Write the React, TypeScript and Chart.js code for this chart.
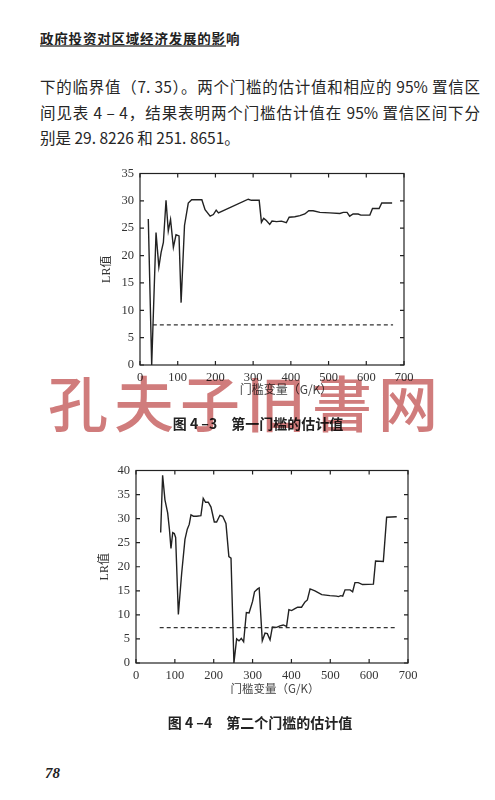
import React, { useEffect, useRef } from "react";
import { Chart, registerables } from "chart.js";

Chart.register(...registerables);

// ---------- data ----------
const xTickValues = [0, 100, 200, 300, 400, 500, 600, 700];
const criticalValue = 7.35;

// Figure 4-3: first threshold
const fig1X = [22, 31, 42.5, 50, 56, 62, 69, 75, 81, 88.5, 95.5, 103.5, 109, 118, 128, 137, 164, 172.5, 186, 194.5, 202, 208, 287, 295.5, 316, 322, 328, 335, 344, 350, 362, 375, 388, 395.5, 410.5, 424, 437, 447.5, 459, 477, 503, 530, 539, 549, 556, 565, 578.5, 585.5, 609.5, 616.5, 634, 641, 668.5];
const fig1LR = [26.7, 0, 24.2, 17.9, 20.6, 22.4, 30.1, 24.5, 26.6, 21.5, 23.8, 23.6, 11.4, 25.5, 29.6, 30.2, 30.2, 28.4, 27.2, 27.5, 28.3, 27.8, 30.3, 30.1, 30.1, 26.1, 26.8, 26.4, 25.7, 26.3, 26.2, 26.3, 26.0, 27.0, 27.1, 27.3, 27.6, 28.2, 28.2, 27.9, 27.8, 27.7, 27.9, 27.9, 27.2, 27.6, 27.6, 27.4, 27.4, 28.6, 28.6, 29.6, 29.6];
const fig1CritRange = [34, 671];
const fig1YMax = 35;

// Figure 4-4: second threshold
const fig2X = [63.5, 68.5, 74.5, 81.5, 86, 90, 94.5, 98.5, 102, 109, 117.5, 126, 132, 137, 141.5, 147.5, 156, 167, 173, 179, 186, 193, 201.5, 207.5, 216, 223, 231.5, 239, 244.5, 252, 259, 265, 271, 277, 284, 291, 300, 305, 313, 317, 325, 332, 338, 345, 351, 362, 370.5, 379, 387.5, 393.5, 400.5, 409, 416, 426, 435, 441, 448, 460.5, 478, 499, 516, 521, 527, 532, 538, 551, 557.5, 563.5, 572, 583, 611, 616.5, 636.5, 645, 671];
const fig2LR = [27.1, 39.0, 33.9, 31.2, 27.8, 23.8, 27.1, 26.9, 26.1, 10.1, 18.6, 25.7, 27.8, 28.8, 30.8, 30.5, 30.5, 30.6, 34.2, 33.4, 33.4, 32.4, 29.3, 29.3, 30.7, 30.5, 29.0, 22.1, 21.8, 0, 5.0, 4.6, 5.1, 4.4, 10.5, 10.4, 12.8, 14.8, 15.4, 15.6, 4.6, 6.2, 6.1, 4.8, 7.5, 7.4, 7.7, 7.9, 7.6, 11.1, 10.9, 11.3, 11.6, 11.6, 12.7, 13.1, 15.4, 15.0, 14.2, 14.0, 13.9, 13.8, 14.0, 13.9, 15.2, 15.2, 14.8, 16.7, 16.7, 16.3, 16.4, 21.2, 21.1, 30.3, 30.4];
const fig2CritRange = [61, 673];
const fig2YMax = 40;

// ---------- texts ----------
const runningHead = "政府投资对区域经济发展的影响";
const paraLines = [
  "下的临界值（7. 35）。两个门槛的估计值和相应的 95% 置信区",
  "间见表 4 – 4，结果表明两个门槛估计值在 95% 置信区间下分",
  "别是 29. 8226 和 251. 8651。",
];
const yTitle = "LR值";
const xTitle = "门槛变量（G/K）";
const caption1 = "图 4 –3　第一门槛的估计值";
const caption2 = "图 4 –4　第二个门槛的估计值";
const watermark = "孔夫子旧書网";
const pageNo = "78";

const INK = "#222";
const TICK_FONT = "'Liberation Serif', 'DejaVu Serif', serif";

const framePlugin = {
  id: "frameTicks",
  afterDatasetsDraw(chart: any) {
    const { ctx, chartArea, scales } = chart;
    const { left, right, top, bottom } = chartArea;
    const x = scales.x;
    const y = scales.y;
    ctx.save();
    ctx.strokeStyle = INK;
    ctx.lineWidth = 1.2;
    ctx.strokeRect(left, top, right - left, bottom - top);
    const L = 4;
    ctx.beginPath();
    x.ticks.forEach((t: any) => {
      const p = x.getPixelForValue(t.value);
      ctx.moveTo(p, bottom);
      ctx.lineTo(p, bottom - L);
      ctx.moveTo(p, top);
      ctx.lineTo(p, top + L);
    });
    y.ticks.forEach((t: any) => {
      const p = y.getPixelForValue(t.value);
      ctx.moveTo(left, p);
      ctx.lineTo(left + L, p);
      ctx.moveTo(right, p);
      ctx.lineTo(right - L, p);
    });
    ctx.stroke();
    ctx.restore();
  },
};

type LRProps = {
  xs: number[];
  ys: number[];
  crit: number[];
  yMax: number;
  left: number;
  top: number;
  yAxisWidth: number;
  areaWidth: number;
  areaHeight: number;
  titlePad: number;
};

function LRChart(props: LRProps) {
  const ref = useRef<HTMLCanvasElement | null>(null);
  const padTop = 10;
  const padRight = 16;
  const xAxisHeight = 30;
  const width = props.yAxisWidth + props.areaWidth + padRight;
  const height = padTop + props.areaHeight + xAxisHeight;

  useEffect(() => {
    if (!ref.current) return;
    const lineData = props.xs.map((x, i) => ({ x, y: props.ys[i] }));
    const critData = props.crit.map((x) => ({ x, y: criticalValue }));
    const chart = new Chart(ref.current, {
      type: "line",
      data: {
        datasets: [
          {
            data: lineData,
            borderColor: INK,
            borderWidth: 1.4,
            pointRadius: 0,
            tension: 0,
            fill: false,
          },
          {
            data: critData,
            borderColor: "#333",
            borderWidth: 1.2,
            borderDash: [4, 3],
            pointRadius: 0,
            fill: false,
          },
        ],
      },
      options: {
        responsive: false,
        animation: false,
        devicePixelRatio: 1,
        layout: { padding: { top: padTop, right: padRight, left: 0, bottom: 0 } },
        plugins: { legend: { display: false }, tooltip: { enabled: false } },
        scales: {
          x: {
            type: "linear",
            min: 0,
            max: 700,
            afterFit: (s: any) => {
              s.height = xAxisHeight;
            },
            afterBuildTicks: (s: any) => {
              s.ticks = xTickValues.map((v) => ({ value: v }));
            },
            grid: { display: false, drawTicks: false },
            border: { display: false },
            ticks: {
              autoSkip: false,
              maxRotation: 0,
              padding: 5,
              color: "#333",
              font: { family: TICK_FONT, size: 12.5 },
            },
          },
          y: {
            type: "linear",
            min: 0,
            max: props.yMax,
            afterFit: (s: any) => {
              s.width = props.yAxisWidth;
            },
            grid: { display: false, drawTicks: false },
            border: { display: false },
            ticks: {
              stepSize: 5,
              autoSkip: false,
              padding: 6,
              color: "#333",
              font: { family: TICK_FONT, size: 12.5 },
            },
            title: {
              display: true,
              text: yTitle,
              color: "#333",
              padding: { top: props.titlePad, bottom: 0 },
              font: { family: "'Liberation Serif', 'Noto Sans CJK SC', serif", size: 12 },
            },
          },
        },
      },
      plugins: [framePlugin],
    } as any);
    return () => chart.destroy();
  }, []);

  return (
    <canvas
      ref={ref}
      width={width}
      height={height}
      style={{ position: "absolute", left: props.left, top: props.top, width, height }}
    />
  );
}

const cjk = "'Noto Sans CJK SC', 'Noto Sans', sans-serif";

export default function App() {
  const abs = (s: React.CSSProperties): React.CSSProperties => ({ position: "absolute", ...s });
  return (
    <div style={abs({ left: 0, top: 0, width: 495, height: 800, background: "#fff", overflow: "hidden", color: INK })}>
      <div style={abs({ left: 40, top: 29, fontFamily: cjk, fontWeight: 700, fontSize: 13.5, letterSpacing: 0.8, lineHeight: "18px", whiteSpace: "nowrap" })}>
        {runningHead}
      </div>
      <div style={abs({ left: 40, top: 45, width: 186, height: 1.5, background: "#777" })} />

      {paraLines.map((t, i) => (
        <div
          key={i}
          style={abs({
            left: 40,
            top: [76, 102, 127][i],
            width: i < 2 ? 440 : undefined,
            fontFamily: cjk,
            fontSize: 15.5,
            lineHeight: "20px",
            whiteSpace: "nowrap",
            textAlign: i < 2 ? "justify" : "left",
            textAlignLast: i < 2 ? "justify" : "auto",
            color: "#262626",
          } as React.CSSProperties)}
        >
          {t}
        </div>
      ))}

      <LRChart xs={fig1X} ys={fig1LR} crit={fig1CritRange} yMax={fig1YMax} left={100} top={160} yAxisWidth={40} areaWidth={264} areaHeight={195} titlePad={0} />
      <div style={abs({ left: 236, top: 381, width: 100, textAlign: "center", fontFamily: cjk, fontSize: 12, lineHeight: "16px", color: "#444", whiteSpace: "nowrap" })}>
        {xTitle}
      </div>
      <div style={abs({ left: 158, top: 414, width: 200, textAlign: "center", fontFamily: cjk, fontWeight: 700, fontSize: 14, lineHeight: "18px", whiteSpace: "nowrap" })}>
        {caption1}
      </div>

      <LRChart xs={fig2X} ys={fig2LR} crit={fig2CritRange} yMax={fig2YMax} left={94} top={457} yAxisWidth={42} areaWidth={272} areaHeight={196} titlePad={4} />
      <div style={abs({ left: 225, top: 680, width: 100, textAlign: "center", fontFamily: cjk, fontSize: 11.5, lineHeight: "16px", color: "#444", whiteSpace: "nowrap" })}>
        {xTitle}
      </div>
      <div style={abs({ left: 160, top: 713, width: 200, textAlign: "center", fontFamily: cjk, fontWeight: 700, fontSize: 14, lineHeight: "18px", whiteSpace: "nowrap" })}>
        {caption2}
      </div>

      <div style={abs({ left: 45, top: 764, fontFamily: TICK_FONT, fontWeight: 700, fontStyle: "italic", fontSize: 15, lineHeight: "18px" })}>
        {pageNo}
      </div>

      <div
        style={abs({
          left: 48,
          top: 370,
          fontFamily: cjk,
          fontWeight: 500,
          fontSize: 60,
          lineHeight: "62px",
          letterSpacing: 6,
          color: "rgb(200,100,100)",
          opacity: 0.85,
          mixBlendMode: "multiply",
          whiteSpace: "nowrap",
          pointerEvents: "none",
        } as React.CSSProperties)}
      >
        {watermark}
      </div>
    </div>
  );
}
